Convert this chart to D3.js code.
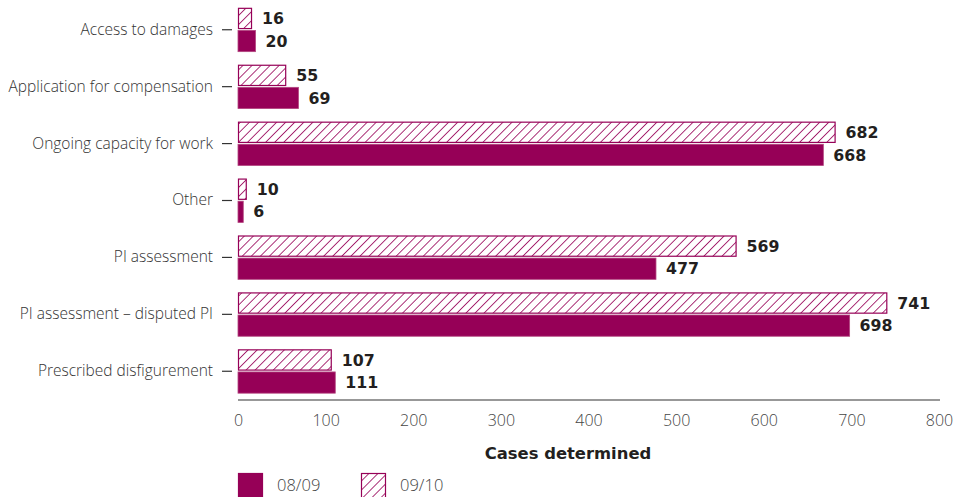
<!DOCTYPE html>
<html><head><meta charset="utf-8">
<script src="https://cdn.jsdelivr.net/npm/d3@7"></script>
<style>body{margin:0;background:#fff;}svg{display:block;}</style>
</head><body>
<svg id="c" width="955" height="497"></svg>
<script>
const categories = ["Access to damages","Application for compensation","Ongoing capacity for work","Other","PI assessment","PI assessment \u2013 disputed PI","Prescribed disfigurement"];
const values0809 = [20,69,668,6,477,698,111];
const values0910 = [16,55,682,10,569,741,107];
const seriesNames = ["08/09","09/10"];
const xTicks = [0,100,200,300,400,500,600,700,800];
const axisTitle = "Cases determined";

const color = "#960057";
const font = "'Open Sans', 'DejaVu Sans', sans-serif";
const boldFont = "'DejaVu Sans', sans-serif";
const svg = d3.select("#c");

const defs = svg.append("defs");
const hs = 6.4;
const pat = defs.append("pattern").attr("id","hatch").attr("patternUnits","userSpaceOnUse")
  .attr("width",hs).attr("height",hs).attr("patternTransform","rotate(45)");
pat.append("rect").attr("width",hs).attr("height",hs).attr("fill","#fff");
pat.append("line").attr("x1",0).attr("y1",0).attr("x2",0).attr("y2",hs).attr("stroke",color).attr("stroke-width",1.6);

const x = d3.scaleLinear().domain([0,800]).range([238,939]);
const y = d3.scaleBand().domain(categories).range([1,400]).paddingInner(0.23).paddingOuter(0.12);
const order = ["09/10","08/09"];
const sub2 = d3.scaleBand().domain(order).range([0,y.bandwidth()]).paddingInner(0.06);

const g = svg.append("g");
categories.forEach((c,i)=>{
  const gy = y(c);
  g.append("rect").attr("x",x(0)+0.5).attr("y",gy+sub2("09/10")+0.5)
    .attr("width",Math.max(0,x(values0910[i])-x(0)-1)).attr("height",sub2.bandwidth()-1)
    .attr("fill","url(#hatch)").attr("stroke",color).attr("stroke-width",1.2);
  g.append("text").attr("x",x(values0910[i])+10).attr("y",gy+sub2("09/10")+sub2.bandwidth()/2)
    .attr("dy","0.36em").attr("font-family",boldFont).attr("font-weight","bold").attr("font-size",15.8)
    .attr("fill","#231f20").text(values0910[i]);
  g.append("rect").attr("x",x(0)).attr("y",gy+sub2("08/09"))
    .attr("width",x(values0809[i])-x(0)).attr("height",sub2.bandwidth())
    .attr("fill",color).attr("stroke","#b3457f").attr("stroke-width",0.8);
  g.append("text").attr("x",x(values0809[i])+10).attr("y",gy+sub2("08/09")+sub2.bandwidth()/2)
    .attr("dy","0.36em").attr("font-family",boldFont).attr("font-weight","bold").attr("font-size",15.8)
    .attr("fill","#231f20").text(values0809[i]);
});

const yAxis = d3.axisLeft(y).tickSize(10).tickPadding(9);
const ya = svg.append("g").attr("transform","translate(232,0)").call(yAxis);
ya.select(".domain").remove();
ya.selectAll(".tick line").attr("stroke","#333").attr("stroke-width",1.2);
ya.selectAll(".tick text").attr("font-family",font).attr("font-weight",300).attr("font-size",15.5).attr("fill","#333");

const xAxis = d3.axisBottom(x).tickValues(xTicks).tickSize(0).tickPadding(15);
const xa = svg.append("g").attr("transform","translate(0,400)").call(xAxis);
xa.select(".domain").attr("stroke","#333").attr("stroke-width",1.2).attr("d","M238,0H940");
xa.selectAll(".tick text").attr("font-family",font).attr("font-weight",300).attr("font-size",16).attr("fill","#444");

svg.append("text").attr("x",568).attr("y",459).attr("text-anchor","middle")
  .attr("font-family",boldFont).attr("font-weight","bold").attr("font-size",16.4).attr("fill","#231f20").text(axisTitle);

const leg = [{name:seriesNames[0],fill:color,x:238},{name:seriesNames[1],fill:"url(#hatch)",x:361}];
leg.forEach(l=>{
  svg.append("rect").attr("x",l.x+0.5).attr("y",473.5).attr("width",24).attr("height",25)
    .attr("fill",l.fill).attr("stroke",color).attr("stroke-width",1.2);
  svg.append("text").attr("x",l.x+39).attr("y",491).attr("font-family",font).attr("font-weight",300).attr("font-size",16.5)
    .attr("fill","#444").text(l.name);
});
</script>
</body></html>
